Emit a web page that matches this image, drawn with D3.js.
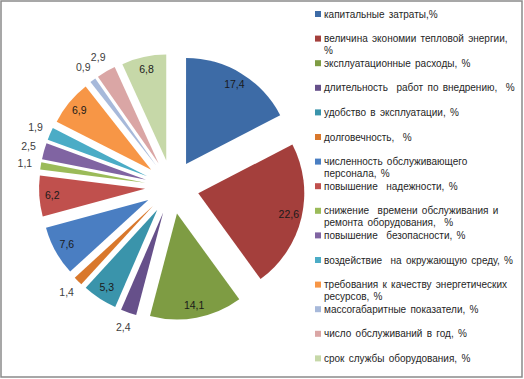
<!DOCTYPE html>
<html>
<head>
<meta charset="utf-8">
<script src="https://cdn.jsdelivr.net/npm/d3@7/dist/d3.min.js"></script>
<style>
  html, body { margin: 0; padding: 0; background: #fff; }
  svg { display: block; }
  text { font-family: "Liberation Sans", Arial, sans-serif; }
</style>
</head>
<body>
<svg id="chart" width="524" height="379"></svg>
<script>
const categories = [
  "капитальные затраты,%",
  "величина экономии тепловой энергии,\n%",
  "эксплуатационные расходы, %",
  "длительность  работ по внедрению,  %",
  "удобство в эксплуатации, %",
  "долговечность,  %",
  "численность обслуживающего\nперсонала, %",
  "повышение  надежности, %",
  "снижение  времени обслуживания и\nремонта оборудования,  %",
  "повышение  безопасности, %",
  "воздействие  на окружающую среду, %",
  "требования к качеству энергетических\nресурсов, %",
  "массогабаритные показатели, %",
  "число обслуживаний в год, %",
  "срок службы оборудования, %"
];
const values = [17.4, 22.6, 14.1, 2.4, 5.3, 1.4, 7.6, 6.2, 1.1, 2.5, 1.9, 6.9, 0.9, 2.9, 6.8];
const valueLabels = ["17,4", "22,6", "14,1", "2,4", "5,3", "1,4", "7,6", "6,2", "1,1", "2,5", "1,9", "6,9", "0,9", "2,9", "6,8"];
const colors = ["#3D6BA6", "#A43F3C", "#7E9C43", "#66508A", "#3A94AB", "#D9782C",
                "#4A7EC2", "#C0504D", "#9BBB59", "#8064A2", "#4BACC6", "#F79646",
                "#A7B9DA", "#DAA6A5", "#C6D8A8"];

const svg = d3.select("#chart");

// frame
svg.append("rect")
  .attr("x", 1).attr("y", 1).attr("width", 521).attr("height", 376)
  .attr("fill", "#fff").attr("stroke", "#8a8a8a").attr("stroke-width", 1.5);

const cx = 172, cy = 187, R = 106, explode = 27;
const pie = d3.pie().sort(null).value(d => d.v).startAngle(0).endAngle(2 * Math.PI);
const data = values.map((v, i) => ({ v, i }));
const arcs = pie(data);
const arc = d3.arc().innerRadius(0).outerRadius(R);

const g = svg.append("g").attr("transform", `translate(${cx},${cy})`);

const slice = g.selectAll("g.slice").data(arcs).enter().append("g")
  .attr("class", "slice")
  .attr("transform", d => {
    const a = (d.startAngle + d.endAngle) / 2;
    return `translate(${explode * Math.sin(a)},${-explode * Math.cos(a)})`;
  });

slice.append("path")
  .attr("d", arc)
  .attr("fill", d => colors[d.data.i]);

slice.append("text")
  .attr("x", d => {
    const a = (d.startAngle + d.endAngle) / 2;
    const r = d.data.v < 3 ? R + 16 : R - 13;
    return r * Math.sin(a);
  })
  .attr("y", d => {
    const a = (d.startAngle + d.endAngle) / 2;
    const r = d.data.v < 3 ? R + 16 : R - 13;
    return -r * Math.cos(a);
  })
  .attr("dy", "0.35em")
  .attr("text-anchor", "middle")
  .attr("font-size", "10.5px")
  .attr("fill", d => d.data.v < 3 ? "#404040" : "#1a1a1a")
  .text(d => valueLabels[d.data.i]);

// legend
const legend = svg.append("g");
const y0 = 14, step = 24.6, lineH = 11.5;
const items = legend.selectAll("g.item").data(categories).enter().append("g")
  .attr("class", "item")
  .attr("transform", (d, i) => `translate(315,${y0 + step * i})`);

items.append("rect")
  .attr("x", 0).attr("y", -3).attr("width", 6).attr("height", 6)
  .attr("fill", (d, i) => colors[i]);

items.append("text")
  .attr("x", 9)
  .attr("font-size", "10px")
  .attr("word-spacing", "1.5px")
  .attr("fill", "#262626")
  .each(function (d) {
    const t = d3.select(this);
    d.split("\n").forEach((line, k) => {
      t.append("tspan").attr("x", 9).attr("y", k * lineH).attr("dy", "0.35em")
        .attr("xml:space", "preserve").text(line);
    });
  });
</script>
</body>
</html>
